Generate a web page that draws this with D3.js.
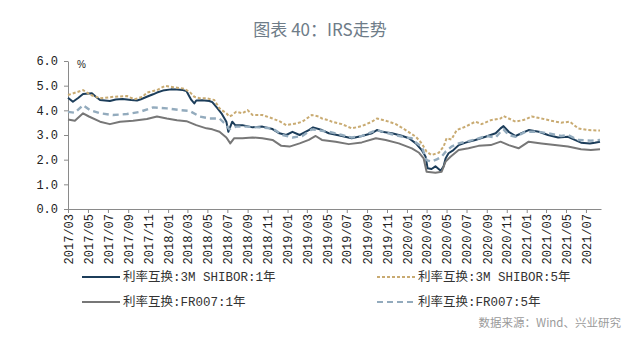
<!DOCTYPE html>
<html><head><meta charset="utf-8">
<script src="https://cdn.jsdelivr.net/npm/d3@7"></script>
<style>
html,body{margin:0;padding:0;background:#fff;}
svg{display:block;}
</style></head>
<body>
<svg id="chart" width="640" height="341"></svg>
<script>
// ---------- data ----------
const titleText = "图表 40：IRS走势";
const sourceText = "数据来源：Wind、兴业研究";
const yTicks = [0, 1, 2, 3, 4, 5, 6];
const xTickLabels = ["2017/03","2017/05","2017/07","2017/09","2017/11","2018/01","2018/03","2018/05","2018/07","2018/09","2018/11","2019/01","2019/03","2019/05","2019/07","2019/09","2019/11","2020/01","2020/03","2020/05","2020/07","2020/09","2020/11","2021/01","2021/03","2021/05","2021/07"];
const seriesNames = ["利率互换:3M SHIBOR:1年","利率互换:3M SHIBOR:5年","利率互换:FR007:1年","利率互换:FR007:5年"];

const shibor1y = [
["2017-03-01",4.51],["2017-03-16",4.35],["2017-04-01",4.50],["2017-04-16",4.66],["2017-05-13",4.69],["2017-05-25",4.55],
["2017-06-07",4.42],["2017-07-07",4.38],["2017-07-25",4.44],["2017-08-15",4.46],["2017-09-10",4.42],["2017-09-28",4.40],
["2017-10-10",4.45],["2017-10-28",4.55],["2017-11-16",4.65],["2017-11-28",4.72],["2017-12-16",4.80],["2018-01-10",4.85],
["2018-01-28",4.84],["2018-02-15",4.82],["2018-02-26",4.78],["2018-03-07",4.56],["2018-03-13",4.42],["2018-03-22",4.28],
["2018-03-28",4.40],["2018-04-15",4.41],["2018-05-07",4.38],["2018-05-16",4.33],["2018-06-01",4.08],["2018-06-13",3.88],
["2018-06-28",3.54],["2018-07-04",3.13],["2018-07-16",3.54],["2018-07-25",3.40],["2018-08-16",3.40],["2018-09-16",3.31],
["2018-10-16",3.34],["2018-11-16",3.24],["2018-12-07",3.07],["2018-12-28",3.00],["2019-01-16",3.13],["2019-02-07",3.00],
["2019-03-07",3.20],["2019-03-20",3.31],["2019-04-16",3.20],["2019-05-07",3.07],["2019-06-16",2.96],["2019-07-16",2.87],
["2019-08-16",2.96],["2019-09-16",3.07],["2019-10-01",3.20],["2019-10-16",3.13],["2019-11-16",3.07],["2019-12-16",2.97],
["2020-01-07",2.87],["2020-01-28",2.66],["2020-02-15",2.39],["2020-02-27",2.12],["2020-03-04",1.65],["2020-03-16",1.62],
["2020-03-28",1.73],["2020-04-13",1.55],["2020-04-22",1.73],["2020-04-28",2.05],["2020-05-07",2.26],["2020-05-22",2.39],
["2020-06-07",2.59],["2020-06-28",2.69],["2020-07-28",2.80],["2020-08-28",2.93],["2020-09-28",3.07],["2020-10-13",3.27],
["2020-10-22",3.36],["2020-11-07",3.13],["2020-11-28",2.96],["2020-12-16",3.07],["2021-01-07",3.20],["2021-02-07",3.13],
["2021-03-07",3.00],["2021-04-07",2.90],["2021-05-07",2.93],["2021-05-28",2.80],["2021-06-16",2.69],["2021-07-13",2.66],
["2021-07-28",2.69],["2021-08-13",2.73]
];
const shibor5y = [
["2017-03-01",4.62],["2017-04-16",4.82],["2017-05-10",4.62],["2017-06-07",4.49],["2017-07-20",4.55],["2017-08-28",4.58],
["2017-09-20",4.45],["2017-10-15",4.55],["2017-10-28",4.72],["2017-11-28",4.82],["2017-12-22",4.99],["2018-01-16",4.94],
["2018-02-15",4.89],["2018-03-07",4.76],["2018-03-22",4.55],["2018-04-07",4.49],["2018-04-28",4.49],["2018-05-22",4.42],
["2018-06-07",4.08],["2018-06-28",3.88],["2018-07-07",3.75],["2018-07-16",3.81],["2018-07-28",3.94],["2018-08-16",3.88],
["2018-09-01",4.01],["2018-09-16",3.81],["2018-10-16",3.81],["2018-11-16",3.67],["2018-12-10",3.54],["2018-12-28",3.40],
["2019-01-28",3.47],["2019-02-15",3.54],["2019-03-16",3.81],["2019-04-07",3.75],["2019-04-16",3.67],["2019-05-07",3.60],
["2019-05-16",3.54],["2019-06-16",3.44],["2019-07-16",3.27],["2019-08-16",3.36],["2019-09-16",3.54],["2019-10-01",3.67],
["2019-10-28",3.58],["2019-11-28",3.44],["2019-12-28",3.20],["2020-01-28",2.93],["2020-02-15",2.66],["2020-03-01",2.32],
["2020-03-16",2.19],["2020-04-07",2.28],["2020-04-22",2.53],["2020-05-01",2.87],["2020-05-16",2.82],["2020-06-01",3.20],
["2020-06-28",3.34],["2020-07-28",3.54],["2020-08-16",3.44],["2020-09-13",3.60],["2020-10-13",3.67],["2020-10-22",3.77],
["2020-11-28",3.54],["2020-12-28",3.63],["2021-01-16",3.75],["2021-02-15",3.67],["2021-03-16",3.58],["2021-04-16",3.50],
["2021-05-13",3.54],["2021-06-07",3.27],["2021-07-07",3.20],["2021-08-13",3.18]
];
const fr1y = [
["2017-03-01",3.63],["2017-03-22",3.58],["2017-04-16",3.88],["2017-05-04",3.75],["2017-06-07",3.54],["2017-07-07",3.44],
["2017-08-07",3.54],["2017-09-16",3.58],["2017-10-28",3.65],["2017-11-28",3.75],["2017-12-28",3.67],["2018-01-28",3.60],
["2018-02-26",3.56],["2018-03-28",3.40],["2018-04-28",3.27],["2018-05-16",3.23],["2018-06-07",3.13],["2018-06-28",2.90],
["2018-07-10",2.66],["2018-07-22",2.87],["2018-08-16",2.87],["2018-09-16",2.90],["2018-10-16",2.87],["2018-11-16",2.80],
["2018-12-13",2.56],["2019-01-07",2.53],["2019-02-07",2.66],["2019-03-07",2.80],["2019-03-28",2.96],["2019-04-16",2.80],
["2019-05-28",2.73],["2019-07-07",2.63],["2019-08-16",2.70],["2019-09-28",2.87],["2019-10-28",2.80],["2019-12-07",2.66],
["2020-01-16",2.46],["2020-02-07",2.28],["2020-02-21",2.05],["2020-03-01",1.51],["2020-03-28",1.47],["2020-04-16",1.51],
["2020-04-28",1.92],["2020-05-13",2.12],["2020-06-07",2.39],["2020-07-07",2.46],["2020-08-07",2.56],["2020-09-13",2.59],
["2020-10-13",2.73],["2020-11-07",2.59],["2020-12-07",2.46],["2021-01-07",2.73],["2021-02-15",2.66],["2021-03-28",2.59],
["2021-05-07",2.53],["2021-06-16",2.42],["2021-07-16",2.39],["2021-08-13",2.42]
];
const fr5y = [
["2017-03-01",3.94],["2017-03-22",3.90],["2017-04-16",4.21],["2017-05-07",4.01],["2017-06-07",3.88],["2017-07-16",3.81],
["2017-08-28",3.85],["2017-10-07",3.94],["2017-11-16",4.12],["2017-12-28",4.08],["2018-02-07",4.01],["2018-03-07",3.98],
["2018-04-07",3.75],["2018-05-07",3.67],["2018-06-07",3.67],["2018-06-28",3.40],["2018-07-07",3.23],["2018-07-28",3.34],
["2018-08-28",3.34],["2018-10-07",3.31],["2018-11-16",3.27],["2018-12-16",3.00],["2019-01-16",2.90],["2019-02-15",2.96],
["2019-03-16",3.23],["2019-04-16",3.17],["2019-05-07",3.13],["2019-06-16",3.00],["2019-07-16",2.90],["2019-08-16",2.96],
["2019-10-01",3.20],["2019-11-16",3.03],["2019-12-28",2.90],["2020-01-16",2.87],["2020-01-28",2.70],["2020-02-15",2.53],
["2020-03-01",1.98],["2020-03-16",1.92],["2020-04-01",2.01],["2020-04-16",2.12],["2020-04-28",2.32],["2020-05-16",2.53],
["2020-06-07",2.66],["2020-07-28",2.82],["2020-08-28",2.96],["2020-09-28",2.90],["2020-10-13",3.13],["2020-10-22",3.23],
["2020-11-07",3.00],["2020-11-28",2.93],["2020-12-28",3.13],["2021-02-07",3.13],["2021-03-07",3.07],["2021-04-16",2.96],
["2021-05-07",3.00],["2021-06-07",2.80],["2021-07-16",2.77],["2021-08-13",2.80]
];

// ---------- layout ----------
const svg = d3.select("#chart");
const parse = d3.timeParse("%Y-%m-%d");
const tickParse = d3.timeParse("%Y/%m");
const M = {left: 68, right: 601, top: 61, bottom: 209};

const x = d3.scaleTime()
  .domain([parse("2017-03-01"), parse("2021-08-16")])
  .range([M.left, M.right]);
const y = d3.scaleLinear().domain([0, 6]).range([M.bottom, M.top]);

const monoFont = "'Liberation Mono', 'Noto Sans CJK SC', monospace";

// title
svg.append("text").attr("x", 320).attr("y", 36).attr("text-anchor", "middle")
  .attr("font-family", "'Noto Sans CJK SC', sans-serif").attr("font-size", 17)
  .attr("fill", "#6e7c88").text(titleText);

// y axis
const yAxis = svg.append("g").attr("transform", `translate(${M.left},0)`)
  .call(d3.axisLeft(y).tickValues(yTicks).tickFormat(d3.format(".1f")).tickSize(4).tickSizeOuter(0));
yAxis.select(".domain").attr("stroke", "#8a8a8a");
yAxis.selectAll(".tick line").attr("stroke", "#8a8a8a");
yAxis.selectAll(".tick text").attr("font-family", monoFont).attr("font-size", 12)
  .attr("fill", "#222").attr("x", -10);

svg.append("text").attr("x", 77).attr("y", 68).attr("font-family", "'Liberation Sans', sans-serif")
  .attr("font-size", 10).attr("fill", "#222").text("%");

// x axis
const xAxis = svg.append("g").attr("transform", `translate(0,${M.bottom})`)
  .call(d3.axisBottom(x).tickValues(xTickLabels.map(tickParse)).tickFormat(d3.timeFormat("%Y/%m")).tickSize(4).tickSizeOuter(0));
xAxis.select(".domain").attr("stroke", "#8a8a8a");
xAxis.selectAll(".tick line").attr("stroke", "#8a8a8a");
xAxis.selectAll(".tick text").attr("font-family", monoFont).attr("font-size", 12).attr("fill", "#222")
  .attr("transform", "rotate(-90)").attr("text-anchor", "end").attr("x", -5).attr("y", 0).attr("dy", "0.35em");

// lines
const line = d3.line().x(d => x(parse(d[0]))).y(d => y(d[1]));
const styles = [
  {data: shibor1y, color: "#1c3d5a", width: 2, dash: null},
  {data: shibor5y, color: "#c9ab72", width: 2, dash: "3,2"},
  {data: fr1y, color: "#777777", width: 2, dash: null},
  {data: fr5y, color: "#93abbd", width: 2.4, dash: "6,4"}
];
styles.forEach(s => {
  svg.append("path").datum(s.data).attr("d", line).attr("fill", "none")
    .attr("stroke", s.color).attr("stroke-width", s.width)
    .attr("stroke-dasharray", s.dash).attr("stroke-linejoin", "round");
});

// legend
const legendPos = [[82, 277], [377, 277], [82, 302], [377, 302]];
seriesNames.forEach((name, i) => {
  const s = styles[i], p = legendPos[i];
  svg.append("line").attr("x1", p[0]).attr("x2", p[0] + 38).attr("y1", p[1]).attr("y2", p[1])
    .attr("stroke", s.color).attr("stroke-width", 2.2).attr("stroke-dasharray", s.dash);
  svg.append("text").attr("x", p[0] + 41).attr("y", p[1]).attr("dy", "0.35em")
    .attr("font-family", monoFont).attr("font-size", 12.5).attr("fill", "#333").text(name);
});

// source
svg.append("text").attr("x", 621).attr("y", 327).attr("text-anchor", "end")
  .attr("font-family", "'Noto Sans CJK SC', sans-serif").attr("font-size", 11.5)
  .attr("fill", "#9a9a9a").text(sourceText);
</script>
</body></html>
